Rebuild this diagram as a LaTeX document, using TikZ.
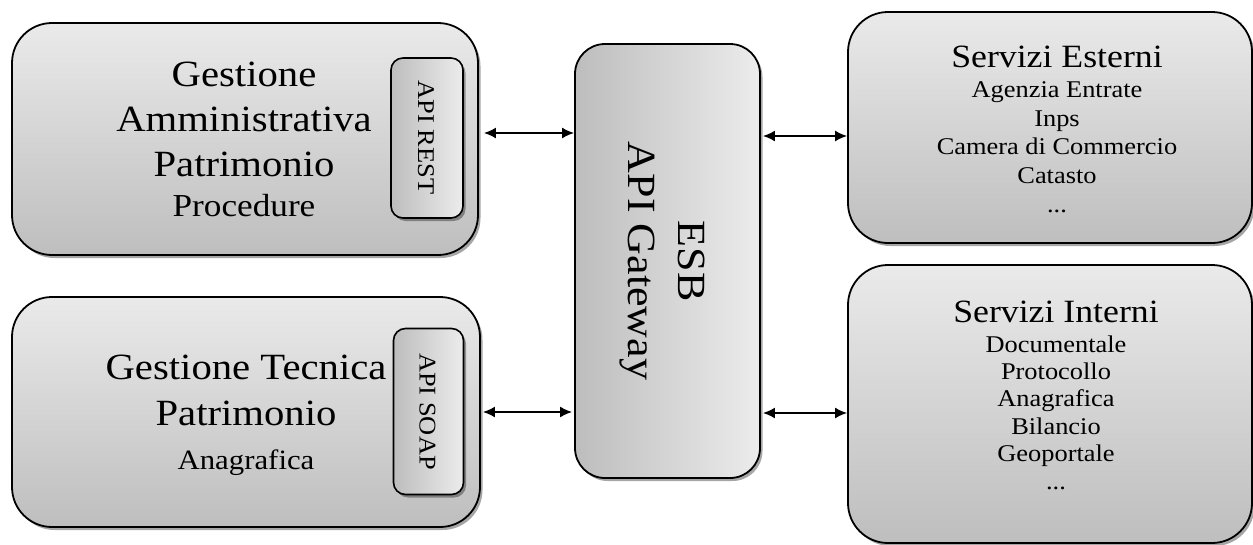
\documentclass[tikz,border=0pt]{standalone}
\usepackage{fontspec}
\setmainfont[FakeStretch=1.1]{Liberation Serif}
\usetikzlibrary{arrows.meta,shadows,calc}
\definecolor{boxtop}{HTML}{EAEAEA}
\definecolor{boxbot}{HTML}{BEBEBE}
\definecolor{sidedark}{HTML}{BDBDBD}
\definecolor{sidelight}{HTML}{ECECEC}
\begin{document}
\begin{tikzpicture}[x=1pt,y=-1pt,
  shd/.style={drop shadow={shadow xshift=2.5pt,shadow yshift=-3pt,opacity=.35,fill=black}},
  bigbox/.style={draw=black,line width=1.8pt,rounded corners=40pt,top color=boxtop,bottom color=boxbot,shd,inner sep=0pt},
  esbbox/.style={draw=black,line width=1.8pt,rounded corners=30pt,left color=sidedark,right color=sidelight,shd,inner sep=0pt},
  apibox/.style={draw=black,line width=1.6pt,rounded corners=12pt,left color=sidedark,right color=sidelight,shd,inner sep=0pt},
  txt/.style={align=center,inner sep=0pt},
  conn/.style={line width=1.8pt,{Latex[length=12pt,width=11pt]}-{Latex[length=12pt,width=11pt]}}
]
\useasboundingbox (0,0) rectangle (1253,544);
\clip (0,0) rectangle (1253,544);

% left boxes
\node[bigbox,minimum width=466pt,minimum height=232pt] (ga) at (245,139) {};
\node[bigbox,minimum width=468pt,minimum height=230pt] (gt) at (246,412) {};
% API boxes
\node[apibox,minimum width=72pt,minimum height=160pt] (rest) at (427,138) {};
\node[apibox,minimum width=70pt,minimum height=166pt] (soap) at (428.5,411.5) {};
% ESB
\node[esbbox,minimum width=185pt,minimum height=434pt] (esb) at (667.5,261) {};
% right boxes
\node[bigbox,minimum width=404pt,minimum height=231pt] (se) at (1050,127.5) {};
\node[bigbox,minimum width=404pt,minimum height=278pt] (si) at (1050,404) {};

% texts
\node[txt,font=\fontsize{37}{45}\selectfont] (gatxt) at (244,139.3)
  {Gestione\\Amministrativa\\Patrimonio\\[-5pt]{\fontsize{32}{38}\selectfont Procedure}};
\node[txt,font=\fontsize{37}{46}\selectfont] (gttxt) at (246,415)
  {Gestione Tecnica\\Patrimonio\\[-2pt]{\fontsize{28}{34}\selectfont Anagrafica}};
\node[txt,rotate=-90,font=\fontsize{24}{28}\selectfont] (resttxt) at (426,137.5) {API REST};
\node[txt,rotate=-90,font=\fontsize{24}{28}\selectfont] (soaptxt) at (427.5,411.5) {API SOAP};
\node[txt,rotate=-90,font=\fontsize{40}{50}\selectfont] (esbtxt) at (662,261) {ESB\\API Gateway};
\node[txt,font=\fontsize{24}{28.7}\selectfont] (setxt) at (1057,129.3)
  {{\fontsize{32.5}{38}\selectfont Servizi Esterni}\\[1.3pt]Agenzia Entrate\\Inps\\Camera di Commercio\\Catasto\\...};
\node[txt,font=\fontsize{24}{27.4}\selectfont] (sitxt) at (1056,395)
  {{\fontsize{32.5}{38}\selectfont Servizi Interni}\\[2.6pt]Documentale\\Protocollo\\Anagrafica\\Bilancio\\Geoportale\\...};

% connectors
\draw[conn] ([xshift=5pt,yshift=6pt]ga.east) -- ([yshift=6pt]ga.east -| esb.west);
\draw[conn] ([xshift=2pt,yshift=-8.5pt]se.west -| esb.east) -- ([yshift=-8.5pt]se.west);
\draw[conn] ([xshift=2pt]gt.east) -- ([xshift=-2pt]gt.east -| esb.west);
\draw[conn] ([xshift=2pt,yshift=-9pt]si.west -| esb.east) -- ([yshift=-9pt]si.west);
\end{tikzpicture}
\end{document}
